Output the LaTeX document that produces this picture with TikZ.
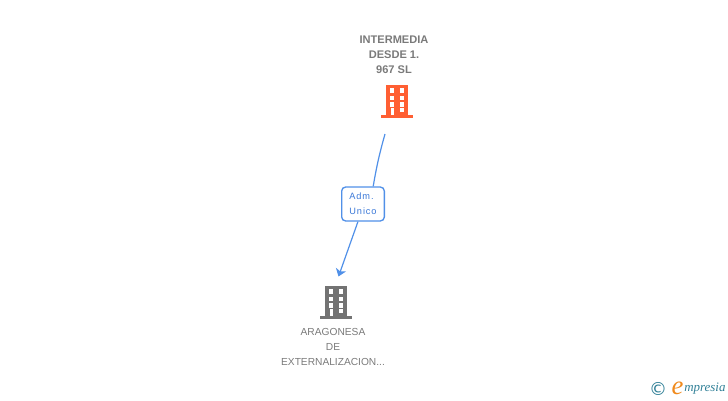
\documentclass[tikz,border=0pt]{standalone}
\usepackage{fontspec}
\setmainfont{Liberation Sans}
\newfontfamily\boxfont[LetterSpace=10]{Liberation Sans}
\newfontfamily\logofont{Liberation Serif}
\newfontfamily\copyfont{DejaVu Sans}
\usetikzlibrary{arrows.meta}
\definecolor{toporange}{HTML}{FF5F33}
\definecolor{bldgray}{HTML}{737373}
\definecolor{lblgray}{HTML}{7A7A7A}
\definecolor{linkblue}{HTML}{5090E8}
\definecolor{textblue}{HTML}{3A78D8}
\definecolor{logoteal}{HTML}{2F7F96}
\definecolor{logoorange}{HTML}{F08A1D}
\tikzset{
    toplabel/.style={text=lblgray,align=center,font=\fontsize{8.3}{11.25}\selectfont\bfseries},
    botlabel/.style={text=lblgray,align=center,font=\fontsize{7.65}{11.25}\selectfont},
    admbox/.style={draw=linkblue,line width=1pt,fill=white,rounded corners=3pt,align=left,
        minimum width=32pt,minimum height=25.5pt,inner sep=0pt,text=textblue,
        font=\fontsize{6.9}{11.25}\selectfont\boxfont},
    link/.style={draw=linkblue,line width=0.9pt},
    pics/tower/.style={code={
        \fill[#1] (5,0) rectangle (27,30);
        \fill[#1] (0,30) rectangle (32,32.6);
        \foreach \wx in {8.8,18.8}
            \foreach \wy in {3.3,10.7,17.3}
                \fill[white] (\wx,\wy) rectangle ++(4.5,4.2);
        \fill[white] (9.5,23) rectangle (13.3,30);
        \fill[white] (18.8,23) rectangle (23.3,27.3);
    }}
}
\begin{document}
\begin{tikzpicture}[x=0.75pt,y=-0.75pt]
    \useasboundingbox (0,0) rectangle (728,400);
    \pic at (381,85) {tower=toporange};
    \pic at (320,286) {tower=bldgray};
    \node[toplabel] (toptext) at (394,55) {INTERMEDIA\\DESDE 1.\\967 SL};
    \node[botlabel] (bottext) at (333,347) {ARAGONESA\\DE\\EXTERNALIZACION...};
    \node[admbox] (adm) at (363,204) {Adm.\\Unico};
    \coordinate (topend) at (385,134);
    \coordinate (botend) at (338.5,276.5);
    \draw[link] (topend) to[bend right=3] (adm.60);
    \draw[link,-{Stealth[length=5.5pt,width=8pt,inset=1.5pt]}] (adm.-106) -- (botend);
    \node[text=logoteal,font=\fontsize{13.5}{14}\selectfont\copyfont,inner sep=0pt] (copy) at (658,389) {©};
    \node[text=logoorange,font=\fontsize{20}{22}\selectfont\logofont\itshape,inner sep=0pt] (elogo) at (677.5,388.5) {e};
    \node[text=logoteal,font=\fontsize{9.7}{12}\selectfont\logofont\itshape,inner sep=0pt,anchor=west] (mlogo) at (684,389) {mpresia};
\end{tikzpicture}
\end{document}
